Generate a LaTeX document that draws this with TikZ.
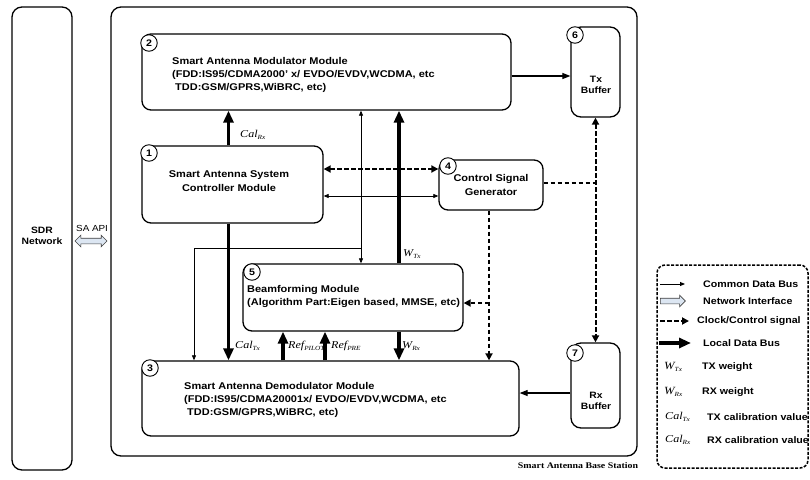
\documentclass[tikz,border=0pt]{standalone}
\usepackage{fontspec}
\setmainfont{Liberation Sans}[FakeStretch=1.12]
\newfontfamily\tnr{Liberation Serif}[FakeStretch=1.15]
\usetikzlibrary{arrows.meta,shapes.arrows}
\definecolor{apiblue}{HTML}{DCE6F2}
\newcommand{\lsub}[1]{\raisebox{-2.2pt}{\fontsize{6.3}{6.3}\selectfont #1}}
\begin{document}
\begin{tikzpicture}[x=1pt,y=-1pt,
  box/.style={draw, line width=1.3pt, rounded corners=9pt, inner sep=0pt},
  num/.style={circle, draw, line width=0.9pt, fill=white, inner sep=0pt, minimum size=16.5pt, font=\bfseries\fontsize{9.5}{9.5}\selectfont},
  mtxt/.style={font=\bfseries\fontsize{9.8}{13}\selectfont, align=left, inner sep=0pt, anchor=west},
  ctxt/.style={font=\bfseries\fontsize{9.8}{14}\selectfont, align=center, inner sep=0pt},
  stxt/.style={font=\bfseries\fontsize{9.2}{11.5}\selectfont, align=center, inner sep=0pt},
  legt/.style={font=\bfseries\fontsize{9.5}{10}\selectfont, inner sep=0pt, anchor=west},
  lbl/.style={font=\tnr\itshape\fontsize{10.5}{10.5}\selectfont, inner sep=0pt, anchor=west},
  legl/.style={font=\tnr\itshape\fontsize{11}{11}\selectfont, inner sep=0pt, anchor=west},
  thinarr/.style={line width=0.7pt, -{Triangle[length=5pt,width=4pt]}},
  medarr/.style={line width=1.1pt, -{Triangle[length=8pt,width=6pt]}},
  bigarr/.style={line width=3.2pt, -{Triangle[length=12pt,width=10pt]}},
  dsh/.style={line width=2pt, dash pattern=on 4.5pt off 2.5pt},
  dasharr/.style={dsh, -{Triangle[length=7pt,width=7pt]}},
  apiarrow/.style={draw=black!75, fill=apiblue, line width=0.6pt, inner sep=2.5pt},
]
\useasboundingbox (0,0) rectangle (810,479);

% big containers
\node[box, rounded corners=10pt, minimum width=60pt, minimum height=463pt] (sdr) at (42,238.5) {};
\node[stxt] (sdrt) at (42,236) {SDR\\Network};
\node[box, rounded corners=10pt, minimum width=526pt, minimum height=449pt] (bs) at (374,231.5) {};
\node[font=\tnr\bfseries\fontsize{8.6}{9}\selectfont, inner sep=0pt] (bst) at (578,466) {Smart Antenna Base Station};

% SA API
\node[font=\fontsize{8.8}{9}\selectfont, inner sep=0pt, anchor=west] (apit) at (76,228) {SA API};
\node[double arrow, apiarrow, minimum height=32pt, double arrow head extend=3pt] (api) at (91,241) {};

% modules
\node[box, minimum width=369pt, minimum height=76pt] (b2) at (326.5,72) {};
\node[box, minimum width=181pt, minimum height=77pt] (b1) at (232.5,184.5) {};
\node[box, minimum width=104pt, minimum height=50pt] (b4) at (491,185) {};
\node[box, minimum width=220pt, minimum height=67pt] (b5) at (353,297.5) {};
\node[box, minimum width=377pt, minimum height=75pt] (b3) at (330.5,398.5) {};
\node[box, rounded corners=10pt, minimum width=49pt, minimum height=90pt] (tx) at (595.5,72) {};
\node[box, rounded corners=10pt, minimum width=49pt, minimum height=85pt] (rx) at (595.5,385.5) {};

% texts
\node[mtxt] (t2) at (172,74.5) {Smart Antenna Modulator Module\\(FDD:IS95/CDMA2000' x/ EVDO/EVDV,WCDMA, etc\\\hspace*{3pt}TDD:GSM/GPRS,WiBRC, etc)};
\node[ctxt] (t1) at (229,181) {Smart Antenna System\\Controller Module};
\node[ctxt] (t4) at (491,185) {Control Signal\\Generator};
\node[mtxt] (t5) at (247,296) {Beamforming Module\\(Algorithm Part:Eigen based, MMSE, etc)};
\node[mtxt] (t3) at (184,399.5) {Smart Antenna Demodulator Module\\(FDD:IS95/CDMA20001x/ EVDO/EVDV,WCDMA, etc\\\hspace*{3pt}TDD:GSM/GPRS,WiBRC, etc)};
\node[stxt] (ttx) at (596,85) {Tx\\Buffer};
\node[stxt] (trx) at (596,401) {Rx\\Buffer};

% number circles
\node[num] (n2) at (149,43) {2};
\node[num] (n1) at (149,153) {1};
\node[num] (n3) at (150,368) {3};
\node[num] (n5) at (252,272) {5};
\node[num] (n4) at (448,166) {4};
\node[num] (n6) at (575,35) {6};
\node[num] (n7) at (575,353) {7};

% column / row coordinates
\coordinate (xa) at (228.5,0);
\coordinate (xc) at (194,0);
\coordinate (xd) at (361,0);
\coordinate (xe) at (399,0);
\coordinate (xf) at (283,0);
\coordinate (xg) at (325,0);
\coordinate (xh) at (489,0);
\coordinate (yA) at (0,169);
\coordinate (yB) at (0,196);
\coordinate (yC) at (0,248);
\coordinate (yD) at (0,303);
\coordinate (yE) at (0,183);
\coordinate (txo) at ([yshift=-4pt]b2.east);
\coordinate (rxo) at ([yshift=-7.5pt]rx.west);

% local data bus (thick)
\draw[bigarr] (xa |- b1.north) -- (xa |- b2.south);
\draw[bigarr] (xa |- b1.south) -- (xa |- b3.north);
\draw[bigarr] (xe |- b5.north) -- (xe |- b2.south);
\draw[bigarr] (xe |- b5.south) -- (xe |- b3.north);
\draw[bigarr] (xf |- b3.north) -- (xf |- b5.south);
\draw[bigarr] (xg |- b3.north) -- (xg |- b5.south);

% common data bus (thin)
\draw[thinarr, {Triangle[length=5pt,width=4pt]}-{Triangle[length=5pt,width=4pt]}] (xd |- b5.north) -- (xd |- b2.south);
\draw[thinarr] (xd |- yC) -- (xc |- yC) -- (xc |- b3.north);
\draw[thinarr, {Triangle[length=5pt,width=4pt]}-{Triangle[length=5pt,width=4pt]}] (b1.east |- yB) -- (b4.west |- yB);
\draw[medarr] (txo) -- (txo -| tx.west);
\draw[medarr] (rxo) -- (rxo -| b3.east);

% clock / control (dashed)
\draw[dsh, {Triangle[length=7pt,width=7pt]}-{Triangle[length=7pt,width=7pt]}] (b1.east |- yA) -- (b4.west |- yA);
\draw[dasharr] (xh |- b4.south) -- (xh |- b3.north);
\draw[dasharr] (xh |- yD) -- (b5.east |- yD);
\draw[dsh] (b4.east |- yE) -- (tx.south |- yE);
\draw[dsh, {Triangle[length=7pt,width=7pt]}-{Triangle[length=7pt,width=7pt]}] (tx.south) -- (rx.north);

% labels
\node[lbl] (lcr) at (240,135) {Cal\lsub{Rx}};
\node[lbl] (lct) at (235,346) {Cal\lsub{Tx}};
\node[lbl] (lr1) at (288,346) {Ref\lsub{PILOT}};
\node[lbl] (lr2) at (331,346) {Ref\lsub{PRE}};
\node[lbl] (lwr) at (402,346) {W\lsub{Rx}};
\node[lbl] (lwt) at (403,254) {W\lsub{Tx}};

% legend
\node[draw, line width=1.5pt, dash pattern=on 3pt off 1.5pt, rounded corners=8pt, minimum width=151pt, minimum height=203pt] (leg) at (732.5,366.5) {};
\coordinate (l1a) at (660,284); \coordinate (l1b) at (685,284);
\draw[thinarr, line width=0.9pt] (l1a) -- (l1b);
\node[legt] (lt1) at (703,284) {Common Data Bus};
\node[single arrow, apiarrow, minimum height=25pt, single arrow head extend=3pt] (la2) at (671.5,301) {};
\node[legt] (lt2) at (703,301) {Network Interface};
\coordinate (l3a) at (660,321); \coordinate (l3b) at (689,321);
\draw[dasharr] (l3a) -- (l3b);
\node[legt] (lt3) at (697,321) {Clock/Control signal};
\coordinate (l4a) at (659,343); \coordinate (l4b) at (691,343);
\draw[bigarr] (l4a) -- (l4b);
\node[legt] (lt4) at (703,343) {Local Data Bus};
\node[legl] (ls5) at (664,367) {W\lsub{Tx}};
\node[legt] (lt5) at (702,367) {TX weight};
\node[legl] (ls6) at (664,392) {W\lsub{Rx}};
\node[legt] (lt6) at (702,392) {RX weight};
\node[lbl] (ls7) at (665,417) {Cal\lsub{Tx}};
\node[legt] (lt7) at (707,417) {TX calibration value};
\node[lbl] (ls8) at (665,440) {Cal\lsub{Rx}};
\node[legt] (lt8) at (707,440) {RX calibration value};
\end{tikzpicture}
\end{document}
